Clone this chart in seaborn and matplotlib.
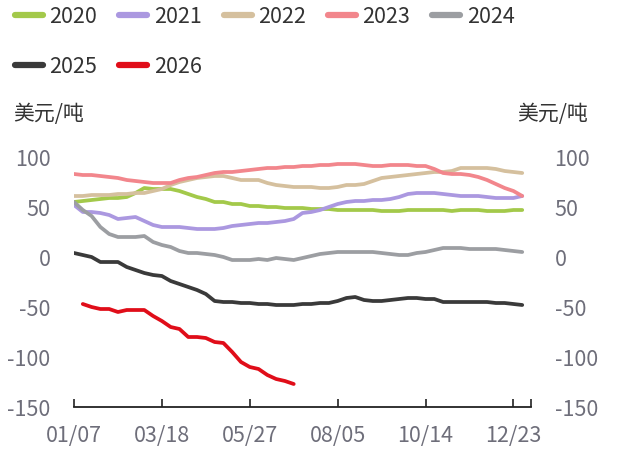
import matplotlib
matplotlib.use('Agg')
import matplotlib.pyplot as plt
from matplotlib.lines import Line2D
import numpy as np
import pandas as pd
import seaborn as sns

# weekly data, 52 weeks, x index 0 = 01/07
years = ['2020', '2021', '2022', '2023', '2024', '2025', '2026']
colors = ['#a3c94a', '#ab98e0', '#d5c09e', '#f2868c', '#9c9ea2', '#3a3a3a', '#e00d19']

y2020 = [55, 56, 57, 58, 59, 59, 60, 64, 69, 68, 68, 68, 66, 63, 60, 58, 55, 55, 53, 53,
         51, 51, 50, 50, 49, 49, 49, 48, 48, 48, 47, 47, 47, 47, 47, 46, 46, 46, 47, 47,
         47, 47, 47, 46, 47, 47, 47, 46, 46, 46, 47, 47]
y2021 = [52, 45, 45, 44, 42, 38, 39, 40, 36, 32, 30, 30, 30, 29, 28, 28, 28, 29, 31, 32,
         33, 34, 34, 35, 36, 38, 44, 45, 47, 50, 53, 55, 56, 56, 57, 57, 58, 60, 63, 64,
         64, 64, 63, 62, 61, 61, 61, 60, 59, 59, 59, 61]
y2022 = [61, 61, 62, 62, 62, 63, 63, 64, 64, 66, 68, 72, 75, 77, 79, 80, 81, 81, 79, 77,
         77, 77, 74, 72, 71, 70, 70, 70, 69, 69, 70, 72, 72, 73, 76, 79, 80, 81, 82, 83,
         84, 85, 85, 86, 89, 89, 89, 89, 88, 86, 85, 84]
y2023 = [83, 82, 82, 81, 80, 79, 77, 76, 75, 74, 74, 74, 77, 79, 80, 82, 84, 85, 85, 86,
         87, 88, 89, 89, 90, 90, 91, 91, 92, 92, 93, 93, 93, 92, 91, 91, 92, 92, 92, 91,
         91, 88, 84, 83, 83, 82, 80, 77, 73, 69, 66, 61]
y2024 = [55, 47, 41, 30, 23, 20, 20, 20, 21, 15, 12, 10, 6, 4, 4, 3, 2, 0, -3, -3,
         -3, -2, -3, -1, -2, -3, -1, 1, 3, 4, 5, 5, 5, 5, 5, 4, 3, 2, 2, 4,
         5, 7, 9, 9, 9, 8, 8, 8, 8, 7, 6, 5]
y2025 = [4, 2, 0, -5, -5, -5, -10, -13, -16, -18, -19, -24, -27, -30, -33, -37, -44, -45, -45, -46,
         -46, -47, -47, -48, -48, -48, -47, -47, -46, -46, -44, -41, -40, -43, -44, -44, -43, -42, -41, -41,
         -42, -42, -45, -45, -45, -45, -45, -45, -46, -46, -47, -48]
y2026 = [np.nan, -47, -50, -52, -52, -55, -53, -53, -53, -59, -64, -70, -72, -80, -80, -81, -85, -86, -95, -105,
         -110, -112, -118, -122, -124, -127]

xticklabels = ['01/07', '03/18', '05/27', '08/05', '10/14', '12/23']
series = [y2020, y2021, y2022, y2023, y2024, y2025, y2026]

rows = []
for yr, vals in zip(years, series):
    for i, v in enumerate(vals):
        rows.append({'week': i, 'year': yr, 'value': v})
df = pd.DataFrame(rows).dropna()

sns.set_style('white')
plt.rcParams['font.family'] = ['Noto Sans CJK SC', 'DejaVu Sans']

fig = plt.figure(figsize=(6.27, 4.53), dpi=100)
ax = fig.add_axes([74/627, 1-407/453, (531-74)/627, (407-157)/453])

sns.lineplot(data=df, x='week', y='value', hue='year', palette=dict(zip(years, colors)),
             linewidth=2.7, ax=ax, legend=False, sort=False)

ax.set_xlim(0, 52)
ax.set_ylim(-150, 100)
ax.set_xlabel('')
ax.set_ylabel('')

ax.set_xticks([0, 10, 20, 30, 40, 50, 52])
ax.set_xticklabels(xticklabels + [''])
ax.set_yticks([-150, -100, -50, 0, 50, 100])
ax.set_yticklabels(['-150', '-100', '-50', '0', '50', '100'])
ax.tick_params(axis='x', bottom=True, direction='in', length=6, width=1.2, color='#222222',
               labelsize=15.5, labelcolor='#6e6e7a', pad=13)
ax.tick_params(axis='y', left=False, right=False, length=0, labelsize=15.5,
               labelcolor='#6e6e7a', pad=17, labelleft=True, labelright=True)

for s in ['top', 'left', 'right']:
    ax.spines[s].set_visible(False)
ax.spines['bottom'].set_color('#222222')
ax.spines['bottom'].set_linewidth(1.3)

fig.text(13/627, 1-114/453, '美元/吨', fontsize=15, color='#333333', va='center', ha='left')
fig.text(588/627, 1-114/453, '美元/吨', fontsize=15, color='#333333', va='center', ha='right')

# legend: 5 per row, column-major ordering
handles = [Line2D([0], [0], color=c, linewidth=4.5, solid_capstyle='round') for c in colors]
order = [0, 5, 1, 6, 2, 3, 4]
fig.legend([handles[i] for i in order], [years[i] for i in order], ncol=5,
           loc='upper left', bbox_to_anchor=(0.0, 1.02), frameon=False,
           fontsize=15.5, labelcolor='#333333', handlelength=1.3, handletextpad=0.3,
           columnspacing=1.02, labelspacing=1.3, borderaxespad=0.3)

fig.savefig('out.png', dpi=100)
